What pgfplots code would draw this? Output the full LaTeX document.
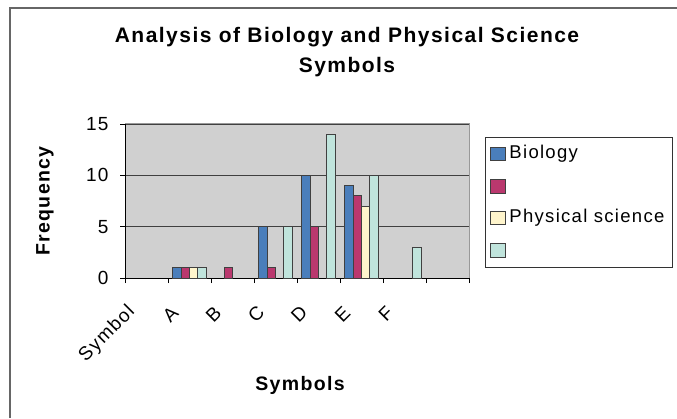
\documentclass[border=0pt]{standalone}
\usepackage{pgfplots}
\pgfplotsset{compat=1.18}
\usepackage{fontspec}
\setmainfont{Liberation Sans}[LetterSpace=7]
\definecolor{bio}{RGB}{74,126,187}
\definecolor{mag}{RGB}{186,56,110}
\definecolor{phy}{RGB}{255,245,204}
\definecolor{cya}{RGB}{192,228,220}
\definecolor{plotbg}{RGB}{208,208,208}
\begin{document}
\begin{tikzpicture}[x=1pt,y=1pt]
\useasboundingbox (0,0) rectangle (677,418);
\draw[gray!80!black, line width=1.2pt] (10,0) -- (10,410) -- (677,410);
\node[align=center, font=\fontsize{21}{30}\selectfont\bfseries] at (347,366) {Analysis of Biology and Physical Science\\Symbols};
\node[rotate=90, font=\fontsize{19.5}{22}\selectfont\bfseries] at (45,217) {Frequency};
\node[font=\fontsize{19.5}{22}\selectfont\bfseries] at (300,33) {Symbols};
\begin{axis}[
  at={(125pt,140pt)}, anchor=south west,
  width=344pt, height=154pt, scale only axis,
  ymin=0, ymax=15, ytick={0,5,10,15},
  xmin=-0.5, xmax=7.5,
  xtick={-0.5,0.5,...,7.5},
  x tick label as interval,
  xticklabels={Symbol,A,B,C,D,E,F,{}},
  ymajorgrids,
  grid style={draw=black!75, line width=1pt},
  axis background/.style={fill=plotbg},
  axis x line*=bottom, axis y line*=left,
  axis line style={black, line width=1pt},
  tick align=outside, major tick length=5pt,
  tick style={black, line width=1pt},
  ticklabel style={font=\fontsize{19}{21}\selectfont},
  /pgf/number format/assume math mode=true,
  yticklabel style={xshift=-8pt},
  xticklabel style={xshift=-12pt, yshift=-24pt, rotate=45, anchor=east},
  ybar=0pt, bar width=8.3pt,
  legend style={at={(rel axis cs:1.0465,0.9156)}, anchor=north west, draw=black!80, line width=1pt,
    font=\fontsize{18.5}{20}\selectfont, row sep=11pt, inner xsep=5pt, inner ysep=6.5pt,
    nodes={text height=13pt, text depth=4pt, inner xsep=3pt}},
  legend cell align=left,
  legend image code/.code={\draw[#1, draw=black!75, line width=1pt] (0pt,-6.5pt) rectangle (15pt,7pt);},
  every axis plot/.append style={draw=black!75, line width=0.9pt},
  clip=false,
]
\addplot[fill=bio] coordinates {(1,1) (3,5) (4,10) (5,9)};
\addplot[fill=mag] coordinates {(1,1) (2,1) (3,1) (4,5) (5,8)};
\addplot[fill=phy] coordinates {(1,1) (5,7)};
\addplot[fill=cya] coordinates {(1,1) (3,5) (4,14) (5,10) (6,3)};
\legend{Biology,\mbox{},Physical science\hspace{6pt},\mbox{}}
\end{axis}
\draw[black!40, line width=1pt] (125,294) -- (469,294) -- (469,140);
\end{tikzpicture}
\end{document}
